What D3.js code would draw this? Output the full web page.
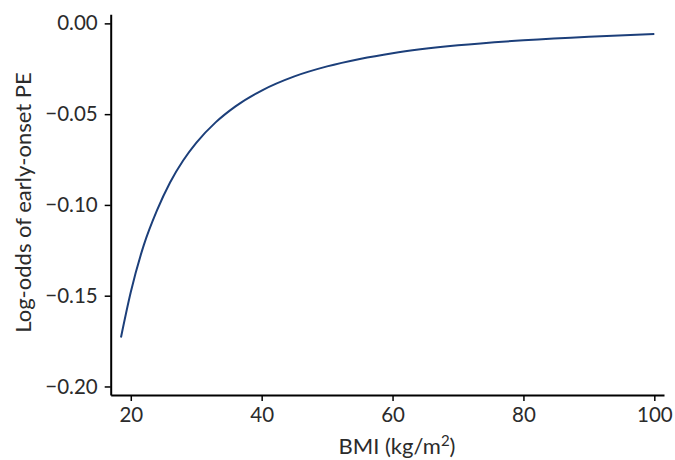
<!DOCTYPE html>
<html><head><meta charset="utf-8">
<script src="https://cdn.jsdelivr.net/npm/d3@7"></script>
<style>body{margin:0;background:#fff;} text{font-family:Lato,"Open Sans",sans-serif;}</style>
</head><body>
<svg id="c" width="675" height="460"></svg>
<script>
const bmi = [18.5, 20, 22, 24, 26, 28, 30, 33, 36, 40, 45, 50, 55, 60, 70, 80, 90, 100];
const logOdds = [-0.173, -0.148, -0.122, -0.103, -0.0876, -0.0755, -0.0658, -0.0544, -0.0457, -0.037, -0.0292, -0.0237, -0.0196, -0.0164, -0.0121, -0.0093, -0.0073, -0.0059];
const xTicks = [20, 40, 60, 80, 100];
const yTicks = [0, -0.05, -0.10, -0.15, -0.20];

const svg = d3.select("#c");
const x = d3.scaleLinear().domain([16.93, 101.48]).range([110.7, 664]);
const y = d3.scaleLinear().domain([0.005, -0.2047]).range([14.3, 395]);
const textCol = "#2b2b2b";

const xa = svg.append("g").attr("transform","translate(0,395)")
  .call(d3.axisBottom(x).tickValues(xTicks).tickSize(6).tickPadding(6).tickSizeOuter(0).tickFormat(d3.format("d")));
const ya = svg.append("g").attr("transform","translate(110.7,0)")
  .call(d3.axisLeft(y).tickValues(yTicks).tickSize(6).tickPadding(7).tickSizeOuter(0).tickFormat(d3.format(".2f")));
[xa, ya].forEach(g => {
  g.select(".domain").attr("stroke","#000").attr("stroke-width",2);
  g.selectAll(".tick line").attr("stroke","#000").attr("stroke-width",1.5);
  g.selectAll(".tick text").attr("fill",textCol).style("font-size","20.5px").style("font-family","Lato");
});

const data = bmi.map((b,i)=>({b, v: logOdds[i]}));
svg.append("path").datum(data)
  .attr("fill","none").attr("stroke","#1c3f7a").attr("stroke-width",2)
  .attr("d", d3.line().x(d=>x(d.b)).y(d=>y(d.v)).curve(d3.curveMonotoneX));

const xl = svg.append("text").attr("x",397).attr("y",454).attr("text-anchor","middle")
  .attr("fill",textCol).style("font-size","22px");
xl.append("tspan").text("BMI (kg/m");
xl.append("tspan").text("2").attr("dy",-8).style("font-size","15px");
xl.append("tspan").text(")").attr("dy",8);

svg.append("text").attr("transform","translate(31,202.5) rotate(-90)").attr("text-anchor","middle")
  .attr("fill",textCol).style("font-size","22px").text("Log-odds of early-onset PE");
</script>
</body></html>
